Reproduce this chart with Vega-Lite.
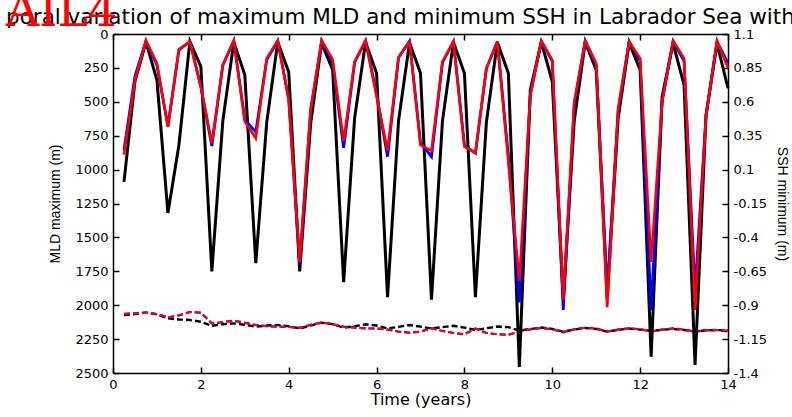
{
  "$schema": "https://vega.github.io/schema/vega-lite/v6.json",
  "width": 615,
  "height": 339,
  "autosize": {"type": "none"},
  "padding": {"left": 113, "top": 34, "right": 64, "bottom": 44},
  "background": "white",
  "title": {
    "text": "poral variation of maximum MLD and minimum SSH in Labrador Sea with",
    "subtitle": "AIL4",
    "anchor": "start",
    "frame": "group",
    "dx": -107,
    "offset": -25,
    "font": "DejaVu Sans",
    "fontSize": 21.5,
    "fontWeight": "normal",
    "color": "#000000",
    "subtitleFont": "DejaVu Serif",
    "subtitleFontSize": 46,
    "subtitleColor": "#ff0000",
    "subtitlePadding": -39
  },
  "data": {
    "values": [
      {"t": 0.25, "mld_k": 1090, "mld_b": 855, "mld_r": 890, "ssh_k": -0.972, "ssh_b": -0.964, "ssh_r": -0.964},
      {"t": 0.5, "mld_k": 350, "mld_b": 310, "mld_r": 340, "ssh_k": -0.965, "ssh_b": -0.960, "ssh_r": -0.960},
      {"t": 0.75, "mld_k": 60, "mld_b": 52, "mld_r": 48, "ssh_k": -0.955, "ssh_b": -0.955, "ssh_r": -0.955},
      {"t": 1.0, "mld_k": 340, "mld_b": 230, "mld_r": 216, "ssh_k": -0.968, "ssh_b": -0.965, "ssh_r": -0.965},
      {"t": 1.25, "mld_k": 1320, "mld_b": 680, "mld_r": 684, "ssh_k": -0.997, "ssh_b": -0.990, "ssh_r": -0.990},
      {"t": 1.5, "mld_k": 820, "mld_b": 120, "mld_r": 113, "ssh_k": -1.005, "ssh_b": -0.975, "ssh_r": -0.975},
      {"t": 1.75, "mld_k": 55, "mld_b": 55, "mld_r": 57, "ssh_k": -1.009, "ssh_b": -0.950, "ssh_r": -0.950},
      {"t": 2.0, "mld_k": 240, "mld_b": 390, "mld_r": 388, "ssh_k": -1.022, "ssh_b": -0.955, "ssh_r": -0.955},
      {"t": 2.25, "mld_k": 1750, "mld_b": 826, "mld_r": 805, "ssh_k": -1.052, "ssh_b": -1.034, "ssh_r": -1.034},
      {"t": 2.5, "mld_k": 640, "mld_b": 230, "mld_r": 229, "ssh_k": -1.040, "ssh_b": -1.025, "ssh_r": -1.025},
      {"t": 2.75, "mld_k": 60, "mld_b": 50, "mld_r": 49, "ssh_k": -1.034, "ssh_b": -1.014, "ssh_r": -1.014},
      {"t": 3.0, "mld_k": 300, "mld_b": 630, "mld_r": 646, "ssh_k": -1.045, "ssh_b": -1.030, "ssh_r": -1.030},
      {"t": 3.25, "mld_k": 1690, "mld_b": 723, "mld_r": 769, "ssh_k": -1.058, "ssh_b": -1.046, "ssh_r": -1.046},
      {"t": 3.5, "mld_k": 650, "mld_b": 190, "mld_r": 180, "ssh_k": -1.050, "ssh_b": -1.055, "ssh_r": -1.055},
      {"t": 3.75, "mld_k": 60, "mld_b": 50, "mld_r": 49, "ssh_k": -1.046, "ssh_b": -1.058, "ssh_r": -1.058},
      {"t": 4.0, "mld_k": 280, "mld_b": 480, "mld_r": 487, "ssh_k": -1.055, "ssh_b": -1.060, "ssh_r": -1.060},
      {"t": 4.25, "mld_k": 1750, "mld_b": 1700, "mld_r": 1680, "ssh_k": -1.071, "ssh_b": -1.066, "ssh_r": -1.066},
      {"t": 4.5, "mld_k": 660, "mld_b": 560, "mld_r": 560, "ssh_k": -1.050, "ssh_b": -1.045, "ssh_r": -1.045},
      {"t": 4.75, "mld_k": 65, "mld_b": 50, "mld_r": 49, "ssh_k": -1.029, "ssh_b": -1.027, "ssh_r": -1.029},
      {"t": 5.0, "mld_k": 265, "mld_b": 210, "mld_r": 187, "ssh_k": -1.040, "ssh_b": -1.040, "ssh_r": -1.040},
      {"t": 5.25, "mld_k": 1830, "mld_b": 840, "mld_r": 790, "ssh_k": -1.066, "ssh_b": -1.058, "ssh_r": -1.058},
      {"t": 5.5, "mld_k": 620, "mld_b": 210, "mld_r": 204, "ssh_k": -1.055, "ssh_b": -1.065, "ssh_r": -1.065},
      {"t": 5.75, "mld_k": 60, "mld_b": 50, "mld_r": 49, "ssh_k": -1.041, "ssh_b": -1.071, "ssh_r": -1.071},
      {"t": 6.0, "mld_k": 290, "mld_b": 440, "mld_r": 460, "ssh_k": -1.050, "ssh_b": -1.072, "ssh_r": -1.072},
      {"t": 6.25, "mld_k": 1940, "mld_b": 905, "mld_r": 860, "ssh_k": -1.071, "ssh_b": -1.080, "ssh_r": -1.080},
      {"t": 6.5, "mld_k": 640, "mld_b": 175, "mld_r": 172, "ssh_k": -1.060, "ssh_b": -1.095, "ssh_r": -1.095},
      {"t": 6.75, "mld_k": 65, "mld_b": 52, "mld_r": 57, "ssh_k": -1.046, "ssh_b": -1.103, "ssh_r": -1.103},
      {"t": 7.0, "mld_k": 290, "mld_b": 800, "mld_r": 819, "ssh_k": -1.058, "ssh_b": -1.095, "ssh_r": -1.095},
      {"t": 7.25, "mld_k": 1960, "mld_b": 905, "mld_r": 860, "ssh_k": -1.072, "ssh_b": -1.070, "ssh_r": -1.070},
      {"t": 7.5, "mld_k": 640, "mld_b": 210, "mld_r": 204, "ssh_k": -1.062, "ssh_b": -1.090, "ssh_r": -1.090},
      {"t": 7.75, "mld_k": 60, "mld_b": 55, "mld_r": 57, "ssh_k": -1.052, "ssh_b": -1.105, "ssh_r": -1.105},
      {"t": 8.0, "mld_k": 290, "mld_b": 820, "mld_r": 831, "ssh_k": -1.065, "ssh_b": -1.115, "ssh_r": -1.115},
      {"t": 8.25, "mld_k": 1940, "mld_b": 880, "mld_r": 875, "ssh_k": -1.083, "ssh_b": -1.072, "ssh_r": -1.072},
      {"t": 8.5, "mld_k": 650, "mld_b": 255, "mld_r": 253, "ssh_k": -1.070, "ssh_b": -1.105, "ssh_r": -1.105},
      {"t": 8.75, "mld_k": 60, "mld_b": 55, "mld_r": 57, "ssh_k": -1.057, "ssh_b": -1.115, "ssh_r": -1.115},
      {"t": 9.0, "mld_k": 290, "mld_b": 900, "mld_r": 940, "ssh_k": -1.062, "ssh_b": -1.118, "ssh_r": -1.118},
      {"t": 9.25, "mld_k": 2455, "mld_b": 1980, "mld_r": 1820, "ssh_k": -1.087, "ssh_b": -1.095, "ssh_r": -1.095},
      {"t": 9.5, "mld_k": 413, "mld_b": 450, "mld_r": 450, "ssh_k": -1.075, "ssh_b": -1.078, "ssh_r": -1.078},
      {"t": 9.75, "mld_k": 60, "mld_b": 55, "mld_r": 49, "ssh_k": -1.065, "ssh_b": -1.068, "ssh_r": -1.068},
      {"t": 10.0, "mld_k": 351, "mld_b": 200, "mld_r": 192, "ssh_k": -1.075, "ssh_b": -1.078, "ssh_r": -1.078},
      {"t": 10.25, "mld_k": 1960, "mld_b": 2035, "mld_r": 1960, "ssh_k": -1.095, "ssh_b": -1.100, "ssh_r": -1.095},
      {"t": 10.5, "mld_k": 640, "mld_b": 520, "mld_r": 500, "ssh_k": -1.080, "ssh_b": -1.078, "ssh_r": -1.078},
      {"t": 10.75, "mld_k": 60, "mld_b": 52, "mld_r": 49, "ssh_k": -1.068, "ssh_b": -1.066, "ssh_r": -1.066},
      {"t": 11.0, "mld_k": 265, "mld_b": 230, "mld_r": 216, "ssh_k": -1.075, "ssh_b": -1.072, "ssh_r": -1.072},
      {"t": 11.25, "mld_k": 1950, "mld_b": 1900, "mld_r": 2015, "ssh_k": -1.095, "ssh_b": -1.095, "ssh_r": -1.095},
      {"t": 11.5, "mld_k": 620, "mld_b": 560, "mld_r": 550, "ssh_k": -1.082, "ssh_b": -1.080, "ssh_r": -1.080},
      {"t": 11.75, "mld_k": 65, "mld_b": 55, "mld_r": 57, "ssh_k": -1.072, "ssh_b": -1.071, "ssh_r": -1.071},
      {"t": 12.0, "mld_k": 265, "mld_b": 200, "mld_r": 180, "ssh_k": -1.080, "ssh_b": -1.078, "ssh_r": -1.078},
      {"t": 12.25, "mld_k": 2380, "mld_b": 2035, "mld_r": 1680, "ssh_k": -1.090, "ssh_b": -1.095, "ssh_r": -1.092},
      {"t": 12.5, "mld_k": 462, "mld_b": 500, "mld_r": 500, "ssh_k": -1.082, "ssh_b": -1.080, "ssh_r": -1.080},
      {"t": 12.75, "mld_k": 70, "mld_b": 55, "mld_r": 49, "ssh_k": -1.075, "ssh_b": -1.071, "ssh_r": -1.071},
      {"t": 13.0, "mld_k": 376, "mld_b": 200, "mld_r": 180, "ssh_k": -1.083, "ssh_b": -1.080, "ssh_r": -1.080},
      {"t": 13.25, "mld_k": 2440, "mld_b": 1900, "mld_r": 2035, "ssh_k": -1.095, "ssh_b": -1.093, "ssh_r": -1.098},
      {"t": 13.5, "mld_k": 600, "mld_b": 600, "mld_r": 600, "ssh_k": -1.085, "ssh_b": -1.085, "ssh_r": -1.085},
      {"t": 13.75, "mld_k": 70, "mld_b": 55, "mld_r": 49, "ssh_k": -1.083, "ssh_b": -1.083, "ssh_r": -1.083},
      {"t": 14.0, "mld_k": 400, "mld_b": 215, "mld_r": 250, "ssh_k": -1.087, "ssh_b": -1.095, "ssh_r": -1.087}
    ]
  },
  "config": {
    "view": {"stroke": null},
    "axis": {
      "grid": false,
      "domainColor": "#000000",
      "domainWidth": 1.5,
      "tickColor": "#000000",
      "tickWidth": 1.5,
      "tickSize": -6,
      "labelFont": "DejaVu Sans",
      "labelFontSize": 13,
      "labelColor": "#000000",
      "labelFlush": false,
      "labelOverlap": false,
      "labelPadding": 11,
      "titleFont": "Liberation Sans",
      "titleFontSize": 14,
      "titleFontWeight": "normal",
      "titleColor": "#000000"
    }
  },
  "resolve": {"scale": {"y": "independent", "x": "independent"}, "axis": {"y": "independent", "x": "independent"}},
  "layer": [
    {
      "transform": [{"fold": ["ssh_k", "ssh_b", "ssh_r"], "as": ["run", "ssh"]}],
      "mark": {"type": "line", "strokeDash": [6, 3]},
      "encoding": {
        "x": {"field": "t", "type": "quantitative", "scale": {"domain": [0, 14]},
              "axis": {"orient": "top", "labels": false, "title": null, "values": [0, 2, 4, 6, 8, 10, 12, 14]}},
        "y": {"field": "ssh", "type": "quantitative", "scale": {"domain": [-1.4, 1.1]},
              "axis": {"orient": "right", "title": "SSH minimum (m)", "titlePadding": 8,
                       "values": [-1.4, -1.15, -0.9, -0.65, -0.4, -0.15, 0.1, 0.35, 0.6, 0.85, 1.1],
                       "labelExpr": "'' + datum.value"}},
        "color": {"field": "run", "type": "nominal", "legend": null,
                  "scale": {"domain": ["mld_k", "mld_b", "mld_r", "ssh_k", "ssh_b", "ssh_r"],
                            "range": ["#000000", "#0000ff", "#ff0000", "#000000", "#0000ff", "#ff0000"]}},
        "strokeWidth": {"field": "run", "type": "nominal", "legend": null,
                  "scale": {"domain": ["mld_k", "mld_b", "mld_r", "ssh_k", "ssh_b", "ssh_r"],
                            "range": [3, 2, 2.5, 1.8, 1.6, 1.6]}}
      }
    },
    {
      "transform": [{"fold": ["mld_k", "mld_b", "mld_r"], "as": ["run", "mld"]}],
      "mark": {"type": "line"},
      "encoding": {
        "x": {"field": "t", "type": "quantitative", "scale": {"domain": [0, 14]},
              "axis": {"orient": "bottom", "title": "Time (years)", "titleFont": "DejaVu Sans", "titleFontSize": 16, "titlePadding": 0,
                       "values": [0, 2, 4, 6, 8, 10, 12, 14], "format": "d"}},
        "y": {"field": "mld", "type": "quantitative", "scale": {"domain": [0, 2500], "reverse": true},
              "axis": {"orient": "left", "title": "MLD maximum (m)", "titlePadding": 12,
                       "values": [0, 250, 500, 750, 1000, 1250, 1500, 1750, 2000, 2250, 2500], "format": "d"}},
        "color": {"field": "run", "type": "nominal", "legend": null,
                  "scale": {"domain": ["mld_k", "mld_b", "mld_r", "ssh_k", "ssh_b", "ssh_r"],
                            "range": ["#000000", "#0000ff", "#ff0000", "#000000", "#0000ff", "#ff0000"]}},
        "strokeWidth": {"field": "run", "type": "nominal", "legend": null,
                  "scale": {"domain": ["mld_k", "mld_b", "mld_r", "ssh_k", "ssh_b", "ssh_r"],
                            "range": [3, 2, 2.5, 1.8, 1.6, 1.6]}}
      }
    }
  ]
}
